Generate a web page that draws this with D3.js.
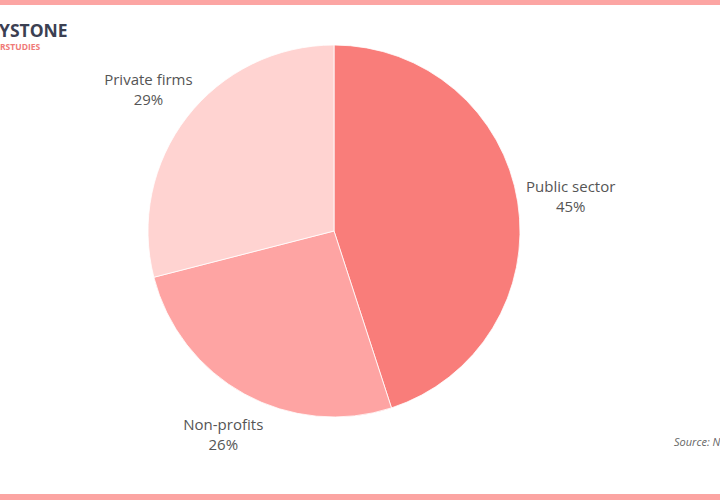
<!DOCTYPE html>
<html>
<head>
<meta charset="utf-8">
<script src="https://cdn.jsdelivr.net/npm/d3@7/dist/d3.min.js"></script>
<style>
  html, body { margin: 0; padding: 0; background: #fff; }
  svg { display: block; font-family: "Open Sans", sans-serif; }
</style>
</head>
<body>
<svg id="chart" width="720" height="500"></svg>
<script>
const categories = ['Public sector', 'Non-profits', 'Private firms'];
const shares = [45, 26, 29];
const colors = ['#F97D7A', '#FEA4A3', '#FFD3D1'];

const W = 720, H = 500;
const svg = d3.select('#chart');

// top / bottom band
svg.append('rect').attr('x', 0).attr('y', 0).attr('width', W).attr('height', 5).attr('fill', '#FCA5A3');
svg.append('rect').attr('x', 0).attr('y', 494).attr('width', W).attr('height', 6).attr('fill', '#FCA5A3');

// logo (cut at the left edge)
svg.append('text').attr('x', -1).attr('y', 36.5).attr('font-size', 17.5).attr('font-weight', 700)
  .attr('fill', '#3B4052').text('YSTONE');
svg.append('text').attr('x', 0).attr('y', 49.5).attr('font-size', 8.5).attr('font-weight', 700)
  .attr('fill', '#F07A78').text('RSTUDIES');

const cx = 334, cy = 231, r = 186;
const g = svg.append('g').attr('transform', `translate(${cx},${cy})`);

const pie = d3.pie().sort(null).value(d => d);
const arcs = pie(shares);
const arc = d3.arc().innerRadius(0).outerRadius(r);
const unitArc = d3.arc().innerRadius(1).outerRadius(1);
// labels sit on a slightly flattened ring outside the pie
const rx = 240, ry = 227;
function labelPos(d) {
  const [ux, uy] = unitArc.centroid(d);
  const k = 1 / Math.sqrt((ux * ux) / (rx * rx) + (uy * uy) / (ry * ry));
  return [ux * k, uy * k];
}

g.selectAll('path').data(arcs).enter().append('path')
  .attr('d', arc)
  .attr('fill', (_, i) => colors[i])
  .attr('stroke', '#fff').attr('stroke-width', 0.8);

const labels = g.selectAll('.lbl').data(arcs).enter().append('text')
  .attr('class', 'lbl')
  .attr('transform', d => `translate(${labelPos(d)})`)
  .attr('text-anchor', 'middle')
  .attr('font-size', 15).attr('fill', '#555');
labels.append('tspan').attr('x', 0).attr('y', -2).text((_, i) => categories[i]);
labels.append('tspan').attr('x', 0).attr('y', 18).text((_, i) => shares[i] + '%');

svg.append('text').attr('x', 674).attr('y', 446).attr('font-size', 11).attr('font-style', 'italic')
  .attr('fill', '#666').text('Source: N');
</script>
</body>
</html>
